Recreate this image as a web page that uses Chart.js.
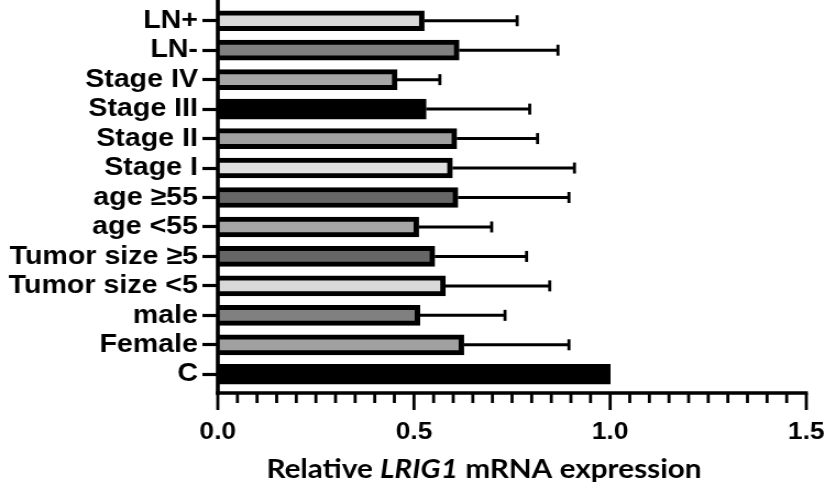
<!DOCTYPE html>
<html>
<head>
<meta charset="utf-8">
<script src="https://cdn.jsdelivr.net/npm/chart.js@4/dist/chart.umd.min.js"></script>
<style>
  html, body { margin: 0; padding: 0; background: #fff; overflow: hidden; }
  #wrap { width: 825px; height: 490px; }
  canvas { transform: scaleX(1.1); transform-origin: 0 0; display: block; }
</style>
</head>
<body>
<div id="wrap"><canvas id="c" width="750" height="490"></canvas></div>
<script>
// ---- data (top to bottom) ----
const categories = ["LN+", "LN-", "Stage IV", "Stage III", "Stage II", "Stage I",
  "age ≥55", "age <55", "Tumor size ≥5", "Tumor size <5", "male", "Female", "C"];
const meanValues = [0.526, 0.615, 0.457, 0.531, 0.609, 0.598, 0.612, 0.512, 0.553, 0.580, 0.515, 0.627, 1.0];
const errorValues = [0.237, 0.252, 0.109, 0.264, 0.206, 0.311, 0.283, 0.186, 0.234, 0.266, 0.217, 0.268, 0];
const barFills = ["#d9d9d9", "#808080", "#a6a6a6", "#000000", "#a0a0a0", "#e0e0e0",
  "#666666", "#a6a6a6", "#666666", "#d9d9d9", "#808080", "#a0a0a0", "#000000"];
const xTickValues = [0, 0.5, 1.0, 1.5];
const axisTitleParts = [["Relative ", false], ["LRIG1", true], [" mRNA expression", false]];

const LABEL_FONT = "'Liberation Sans', Arial, sans-serif";

const axesPlugin = {
  id: 'axesPlugin',
  afterDraw(chart) {
    const ctx = chart.ctx;
    const xs = chart.scales.x;
    const area = chart.chartArea;
    const axisY = area.bottom + 4;
    const x0 = xs.getPixelForValue(0);
    const x1 = xs.getPixelForValue(1.5);
    ctx.save();
    ctx.strokeStyle = '#000';
    ctx.lineCap = 'butt';
    // y axis line
    ctx.lineWidth = 3.6;
    ctx.beginPath();
    ctx.moveTo(x0, 0);
    ctx.lineTo(x0, axisY + 1.8);
    ctx.stroke();
    // x axis line
    ctx.lineWidth = 3.6;
    ctx.beginPath();
    ctx.moveTo(x0 - 1.8, axisY);
    ctx.lineTo(x1 + 1.4, axisY);
    ctx.stroke();
    // ticks
    ctx.lineWidth = 2.8;
    for (let i = 0; i <= 30; i++) {
      const v = i * 0.05;
      const px = xs.getPixelForValue(v);
      const major = (i % 10 === 0);
      ctx.beginPath();
      ctx.moveTo(px, axisY);
      ctx.lineTo(px, axisY + (major ? 17 : 10));
      ctx.stroke();
    }
    // error bars (positive side only)
    const ys = chart.scales.y;
    meanValues.forEach((m, i) => {
      const e = errorValues[i];
      if (!e) return;
      const yc = ys.getPixelForValue(i);
      const xa = xs.getPixelForValue(m);
      const xb = xs.getPixelForValue(m + e);
      ctx.lineWidth = 3;
      ctx.beginPath();
      ctx.moveTo(xa, yc);
      ctx.lineTo(xb, yc);
      ctx.stroke();
      ctx.lineWidth = 2.8;
      ctx.beginPath();
      ctx.moveTo(xb, yc - 5.5);
      ctx.lineTo(xb, yc + 5.5);
      ctx.stroke();
    });
    // axis title with italic gene name
    const size = 27;
    const fam = "Lato, 'Open Sans', sans-serif";
    let total = 0;
    const widths = axisTitleParts.map(([t, it]) => {
      ctx.font = (it ? 'italic ' : '') + 'bold ' + size + 'px ' + fam;
      const w = ctx.measureText(t).width;
      total += w;
      return w;
    });
    let tx = 440 - total / 2;
    ctx.fillStyle = '#000';
    ctx.textBaseline = 'alphabetic';
    ctx.textAlign = 'left';
    axisTitleParts.forEach(([t, it], k) => {
      ctx.font = (it ? 'italic ' : '') + 'bold ' + size + 'px ' + fam;
      ctx.fillText(t, tx, 478);
      tx += widths[k];
    });
    ctx.restore();
  }
};

new Chart(document.getElementById('c'), {
  type: 'bar',
  data: {
    labels: categories,
    datasets: [{
      data: meanValues,
      backgroundColor: barFills,
      borderColor: '#000',
      borderWidth: 5,
      borderSkipped: 'start',
      barThickness: 20
    }]
  },
  options: {
    indexAxis: 'y',
    responsive: false,
    animation: false,
    devicePixelRatio: 1,
    layout: { padding: { top: 6, right: 17, left: 0, bottom: 0 } },
    plugins: { legend: { display: false }, tooltip: { enabled: false } },
    scales: {
      x: {
        type: 'linear',
        min: 0, max: 1.5,
        afterFit(s) { s.height = 101; s.paddingLeft = 0; s.paddingRight = 0; },
        afterBuildTicks(s) { s.ticks = xTickValues.map(v => ({ value: v })); },
        grid: { display: false, drawTicks: false },
        border: { display: false },
        ticks: {
          padding: 29,
          color: '#000',
          maxRotation: 0,
          autoSkip: false,
          font: { family: LABEL_FONT, size: 24, weight: 'bold' },
          callback: v => Number(v).toFixed(1)
        }
      },
      y: {
        type: 'category',
        offset: true,
        afterFit(s) { s.width = 198; s.paddingTop = 0; s.paddingBottom = 0; },
        grid: { display: true, drawOnChartArea: false, drawTicks: true, offset: false,
                tickLength: 14, tickWidth: 3.2, tickColor: '#000' },
        border: { display: false },
        ticks: {
          padding: 4,
          autoSkip: false,
          color: '#000',
          font: { family: LABEL_FONT, size: 26, weight: 'bold' }
        }
      }
    }
  },
  plugins: [axesPlugin]
});
</script>
</body>
</html>
